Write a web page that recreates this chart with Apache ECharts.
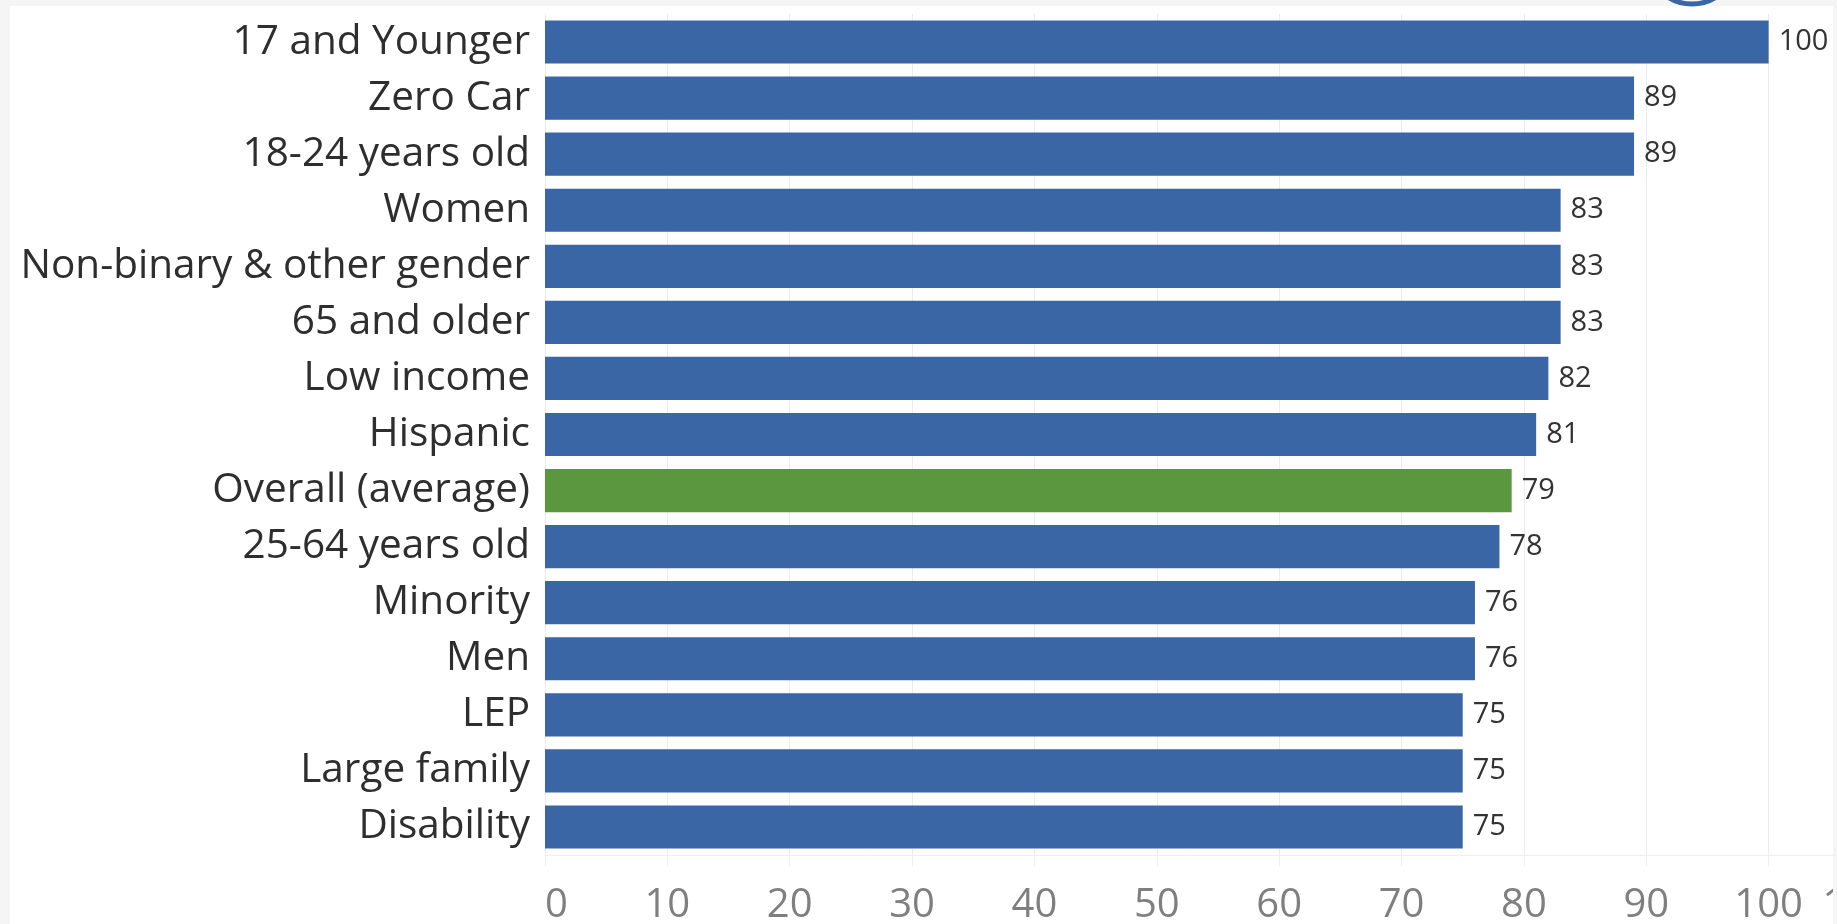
<!DOCTYPE html>
<html>
<head>
<meta charset="utf-8">
<script src="https://cdn.jsdelivr.net/npm/echarts@6/dist/echarts.min.js"></script>
<style>
  html, body { margin: 0; padding: 0; background: #f5f5f5; }
  #panel { position: absolute; left: 10px; top: 6px; width: 1823px; height: 918px; background: #ffffff; }
  #chart { position: absolute; left: 0; top: 0; width: 1837px; height: 924px; }
</style>
</head>
<body>
<div id="panel"></div>
<div id="chart"></div>
<script>
const categories = [
  '17 and Younger', 'Zero Car', '18-24 years old', 'Women',
  'Non-binary & other gender', '65 and older', 'Low income', 'Hispanic',
  'Overall (average)', '25-64 years old', 'Minority', 'Men', 'LEP',
  'Large family', 'Disability'
];
const values = [100, 89, 89, 83, 83, 83, 82, 81, 79, 78, 76, 76, 75, 75, 75];
const highlightCategory = 'Overall (average)';
const xTicks = [0, 10, 20, 30, 40, 50, 60, 70, 80, 90, 100, 110];

const BLUE = '#3a66a5';
const GREEN = '#5b973f';
const FONT = '"Open Sans", "Noto Sans", sans-serif';

const chart = echarts.init(document.getElementById('chart'), null, { renderer: 'canvas' });

const seriesData = categories.map((c, i) => ({
  value: values[i],
  itemStyle: { color: c === highlightCategory ? GREEN : BLUE }
}));

chart.setOption({
  backgroundColor: 'transparent',
  animation: false,
  grid: { left: 545, right: -54, top: 14, bottom: 69, containLabel: false, outerBoundsMode: 'none' },
  xAxis: {
    type: 'value',
    min: xTicks[0],
    max: xTicks[xTicks.length - 1],
    interval: 10,
    axisLine: { show: true, lineStyle: { color: '#eeeeee', width: 1 } },
    axisTick: { show: true, length: 11, lineStyle: { color: '#eeeeee' } },
    splitLine: { show: true, lineStyle: { color: '#ececec', width: 1 } },
    axisLabel: {
      color: '#7f7f7f',
      fontFamily: FONT,
      fontSize: 40,
      margin: 31,
      alignMinLabel: 'left',
      alignMaxLabel: 'right'
    }
  },
  yAxis: {
    type: 'category',
    data: categories,
    inverse: true,
    axisLine: { show: false },
    axisTick: { show: false },
    splitLine: { show: false },
    axisLabel: {
      color: '#2e2e2e',
      fontFamily: FONT,
      fontSize: 40.5,
      margin: 15,
      padding: [6, 0, 0, 0]
    }
  },
  graphic: [
    {
      type: 'circle',
      shape: { cx: 1692, cy: -41, r: 45 },
      style: { fill: 'none', stroke: BLUE, lineWidth: 5 },
      z: 100
    },
    {
      type: 'rect',
      shape: { x: 1833, y: 0, width: 10, height: 924 },
      style: { fill: '#f5f5f5' },
      z: 100
    }
  ],
  series: [{
    type: 'bar',
    data: seriesData,
    barCategoryGap: '23%',
    label: {
      show: true,
      position: 'right',
      distance: 10,
      color: '#333333',
      fontFamily: FONT,
      fontSize: 29,
      padding: [4, 0, 0, 0]
    }
  }]
});
</script>
</body>
</html>
